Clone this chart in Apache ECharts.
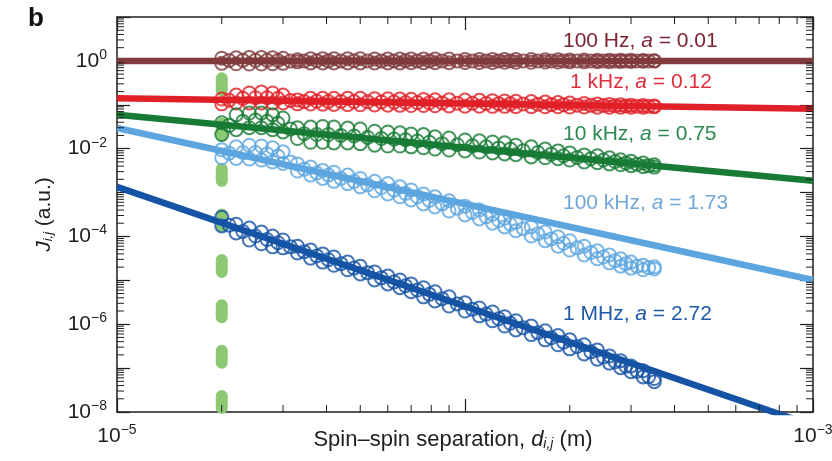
<!DOCTYPE html>
<html>
<head>
<meta charset="utf-8">
<script src="https://cdn.jsdelivr.net/npm/echarts@6/dist/echarts.min.js"></script>
<style>
html, body { margin: 0; padding: 0; background: #fff; }
#main { width: 832px; height: 461px; }
</style>
</head>
<body>
<div id="main"></div>
<script>
// spin-spin separations (m) where the measured couplings are sampled
var sep = [2.0e-5, 2.2e-5, 2.4e-5, 2.6e-5, 2.8e-5, 3.0e-5, 3.3e-5, 3.6e-5, 3.9e-5, 4.2e-5,
    4.6e-5, 5.0e-5, 5.5e-5, 6.0e-5, 6.5e-5, 7.0e-5, 7.6e-5, 8.2e-5, 9.0e-5, 1.0e-4,
    1.1e-4, 1.2e-4, 1.3e-4, 1.4e-4, 1.55e-4, 1.7e-4, 1.85e-4, 2.0e-4, 2.2e-4, 2.4e-4,
    2.6e-4, 2.8e-4, 3.0e-4, 3.25e-4, 3.5e-4];
// separations of the band-centre samples
var sepMid = [2.1e-5, 2.3e-5, 2.5e-5, 2.7e-5, 2.9e-5, 3.15e-5, 3.45e-5, 3.75e-5, 4.05e-5, 4.4e-5,
    4.8e-5, 5.25e-5, 5.75e-5, 6.25e-5, 6.75e-5, 7.3e-5, 7.9e-5, 8.6e-5, 9.5e-5, 1.05e-4,
    1.15e-4, 1.25e-4, 1.35e-4, 1.47e-4, 1.62e-4, 1.77e-4, 1.92e-4, 2.1e-4, 2.3e-4, 2.5e-4,
    2.7e-4, 2.9e-4, 3.12e-4, 3.37e-4];

// upper edge / lower edge / centre of each data band (a.u.)
var hz100Hi = [1.15, 1.18, 1.2, 1.2, 1.18, 1.15, 1.06, 1.12, 1.12, 1.12, 1.12, 1.12, 1.1, 1.1, 1.1, 1.1, 1.1, 1.1, 1.1, 1.08, 1.08, 1.08, 1.07, 1.07, 1.07, 1.06, 1.06, 1.05, 1.05, 1.04, 1.04, 1.03, 1.03, 1.02, 1.01];
var hz100Lo = [0.88, 0.86, 0.85, 0.85, 0.86, 0.88, 0.95, 0.9, 0.9, 0.9, 0.9, 0.9, 0.9, 0.9, 0.9, 0.91, 0.91, 0.91, 0.91, 0.92, 0.92, 0.92, 0.93, 0.93, 0.93, 0.94, 0.94, 0.95, 0.95, 0.96, 0.96, 0.97, 0.97, 0.98, 0.99];
var hz100Mid = [1.02, 1.03, 1.03, 1.03, 1.02, 0.99, 1.0, 1.01, 1.0, 1.0, 1.01, 1.0, 1.0, 1.0, 1.01, 1.0, 1.0, 1.0, 1.0, 1.0, 1.0, 1.0, 1.0, 1.0, 1.0, 1.0, 1.0, 1.0, 1.0, 1.0, 1.0, 1.0, 1.0, 1.0];
var khz1Hi = [0.135, 0.166, 0.186, 0.195, 0.186, 0.166, 0.129, 0.14, 0.14, 0.14, 0.14, 0.14, 0.138, 0.137, 0.135, 0.133, 0.132, 0.13, 0.13, 0.128, 0.126, 0.124, 0.122, 0.12, 0.118, 0.115, 0.112, 0.11, 0.107, 0.104, 0.102, 0.1, 0.098, 0.096, 0.094];
var khz1Lo = [0.105, 0.11, 0.11, 0.11, 0.11, 0.11, 0.105, 0.104, 0.103, 0.102, 0.101, 0.1, 0.099, 0.098, 0.097, 0.096, 0.096, 0.095, 0.094, 0.093, 0.093, 0.092, 0.092, 0.091, 0.091, 0.09, 0.09, 0.089, 0.089, 0.088, 0.088, 0.088, 0.088, 0.088, 0.09];
var khz1Mid = [0.127, 0.14, 0.145, 0.145, 0.14, 0.125, 0.118, 0.12, 0.119, 0.119, 0.118, 0.117, 0.116, 0.115, 0.113, 0.112, 0.111, 0.11, 0.109, 0.108, 0.107, 0.106, 0.105, 0.104, 0.103, 0.101, 0.1, 0.098, 0.097, 0.096, 0.095, 0.094, 0.093, 0.092];
var khz10Hi = [0.039, 0.059, 0.065, 0.065, 0.059, 0.05, 0.03, 0.031, 0.032, 0.031, 0.0295, 0.028, 0.025, 0.024, 0.023, 0.0215, 0.021, 0.0186, 0.0174, 0.0158, 0.0151, 0.0142, 0.0136, 0.012, 0.011, 0.0098, 0.0089, 0.008, 0.0072, 0.0069, 0.0062, 0.0056, 0.0052, 0.0047, 0.0043];
var khz10Lo = [0.021, 0.027, 0.03, 0.03, 0.027, 0.024, 0.017, 0.014, 0.014, 0.0135, 0.0135, 0.013, 0.012, 0.0115, 0.0115, 0.011, 0.0105, 0.0098, 0.0093, 0.0089, 0.0084, 0.008, 0.0076, 0.0073, 0.0065, 0.0062, 0.0059, 0.0055, 0.005, 0.0048, 0.0045, 0.0043, 0.0041, 0.0039, 0.0038];
var khz10Mid = [0.034, 0.042, 0.045, 0.042, 0.038, 0.028, 0.022, 0.021, 0.021, 0.02, 0.0195, 0.018, 0.017, 0.0165, 0.016, 0.015, 0.014, 0.013, 0.0123, 0.0116, 0.011, 0.0104, 0.0098, 0.009, 0.0082, 0.0075, 0.0069, 0.0063, 0.0059, 0.0055, 0.0051, 0.0047, 0.0044, 0.0041];
var khz100Hi = [0.0095, 0.011, 0.012, 0.0115, 0.0105, 0.0085, 0.0045, 0.0038, 0.0032, 0.0029, 0.0025, 0.0021, 0.0018, 0.0016, 0.00135, 0.00115, 0.00093, 0.0008, 0.00065, 0.00049, 0.0004, 0.00032, 0.00026, 0.00021, 0.000165, 0.000126, 0.000098, 0.00008, 0.00006, 0.000047, 0.000038, 0.000031, 0.000026, 0.000022, 0.0000204];
var khz100Lo = [0.0062, 0.006, 0.0058, 0.0055, 0.005, 0.0046, 0.0031, 0.0025, 0.0021, 0.0018, 0.0016, 0.00135, 0.0011, 0.00093, 0.0008, 0.00068, 0.00055, 0.00047, 0.00038, 0.00031, 0.00025, 0.0002, 0.000165, 0.000135, 0.000103, 0.00008, 0.00006, 0.000049, 0.000038, 0.000031, 0.000025, 0.000021, 0.000019, 0.0000174, 0.0000182];
var khz100Mid = [0.0079, 0.0082, 0.0082, 0.0076, 0.0068, 0.005, 0.0034, 0.0028, 0.0025, 0.0021, 0.0018, 0.0015, 0.0013, 0.00113, 0.00096, 0.0008, 0.00066, 0.00055, 0.00044, 0.00035, 0.00028, 0.00023, 0.00019, 0.00015, 0.000115, 0.000088, 0.00007, 0.000055, 0.000043, 0.000034, 0.000028, 0.000024, 0.000021, 0.0000195];
var mhz1Hi = [2.75e-4, 1.9e-4, 1.55e-4, 1.26e-4, 1.02e-4, 8.3e-5, 6.0e-5, 4.9e-5, 4.0e-5, 3.4e-5, 2.6e-5, 2.1e-5, 1.55e-5, 1.26e-5, 1.02e-5, 8.3e-6, 6.8e-6, 5.5e-6, 4.2e-6, 3.1e-6, 2.35e-6, 1.9e-6, 1.48e-6, 1.2e-6, 9.1e-7, 7.1e-7, 5.5e-7, 4.4e-7, 3.4e-7, 2.6e-7, 1.9e-7, 1.48e-7, 1.12e-7, 8.7e-8, 5.8e-8];
var mhz1Lo = [1.74e-4, 1.2e-4, 8.3e-5, 6.8e-5, 5.8e-5, 5.5e-5, 4.2e-5, 3.2e-5, 2.6e-5, 2.2e-5, 1.74e-5, 1.4e-5, 1.02e-5, 8.3e-6, 6.8e-6, 5.5e-6, 4.2e-6, 3.4e-6, 2.6e-6, 2.0e-6, 1.55e-6, 1.2e-6, 9.1e-7, 7.4e-7, 5.8e-7, 4.4e-7, 3.4e-7, 2.75e-7, 2.1e-7, 1.6e-7, 1.3e-7, 1.02e-7, 8.3e-8, 6.3e-8, 4.9e-8];
var mhz1Mid = [1.8e-4, 1.3e-4, 1.02e-4, 8.5e-5, 7.2e-5, 5.8e-5, 4.5e-5, 3.6e-5, 2.95e-5, 2.4e-5, 1.9e-5, 1.48e-5, 1.14e-5, 9.2e-6, 7.5e-6, 6.0e-6, 4.8e-6, 3.8e-6, 2.9e-6, 2.2e-6, 1.7e-6, 1.33e-6, 1.05e-6, 8.3e-7, 6.4e-7, 4.9e-7, 3.9e-7, 3.1e-7, 2.35e-7, 1.78e-7, 1.4e-7, 1.1e-7, 8.5e-8, 6.4e-8];

// power-law fits, value at the two ends of the x range
var fitX = [1e-5, 1e-3];
var fit100Hz = [1.0, 1.0];
var fit1kHz = [0.141, 0.081];
var fit10kHz = [0.059, 0.00186];
var fit100kHz = [0.0295, 1.02e-5];
var fit1MHz = [0.00135, 4.9e-9];

// vertical cut-off marker
var cutoffX = 2e-5;
var cutoffY = [1, 1e-8];

// tick labels (decade exponents)
var xLabelExps = [-5, -3];
var yLabelExps = [0, -2, -4, -6, -8];
var minorSteps = [2, 3, 4, 5, 6, 7, 8, 9];

var labelTexts = [
    ['100 Hz, ', '0.01'],
    ['1 kHz, ', '0.12'],
    ['10 kHz, ', '0.75'],
    ['100 kHz, ', '1.73'],
    ['1 MHz, ', '2.72']
];

var FONT = 'Liberation Sans, Arial, Helvetica, sans-serif';
var INK = '#1e1e1e';

var myChart = echarts.init(document.getElementById('main'));

function pairs(xs, ys) {
    return xs.map(function (x, i) { return [x, ys[i]]; });
}

function supLabel(e) {
    return '{b|10}{s|' + (e < 0 ? '\u2212' + (-e) : e) + '}';
}

function dataSeries(color, hi, lo, mid) {
    return {
        type: 'scatter',
        data: pairs(sep, hi).concat(pairs(sepMid, mid), pairs(sep, lo)),
        symbol: 'circle',
        symbolSize: 13,
        itemStyle: { color: 'rgba(255,255,255,0)', borderColor: color, borderWidth: 2 },
        z: 2,
        silent: true
    };
}

function fitSeries(color, ys) {
    return {
        type: 'line',
        data: pairs(fitX, ys),
        symbol: 'none',
        lineStyle: { color: color, width: 6.5 },
        z: 3,
        silent: true
    };
}

// minor log ticks for each decade
var xMinor = [], yMinor = [];
[-5, -4].forEach(function (k) {
    minorSteps.forEach(function (m) { xMinor.push([m * Math.pow(10, k), 1]); });
});
for (var k = -8; k <= 0; k++) {
    minorSteps.forEach(function (m) { yMinor.push([1e-4, m * Math.pow(10, k)]); });
}

function minorXTick(params, api) {
    var px = api.coord([api.value(0), 1])[0];
    var cs = params.coordSys;
    var st = { stroke: INK, lineWidth: 1 };
    return {
        type: 'group', children: [
            { type: 'line', shape: { x1: px, y1: cs.y + cs.height, x2: px, y2: cs.y + cs.height - 7 }, style: st },
            { type: 'line', shape: { x1: px, y1: cs.y, x2: px, y2: cs.y + 7 }, style: st }
        ]
    };
}

function minorYTick(params, api) {
    var py = api.coord([1e-4, api.value(1)])[1];
    var cs = params.coordSys;
    var st = { stroke: INK, lineWidth: 1 };
    return {
        type: 'group', children: [
            { type: 'line', shape: { x1: cs.x, y1: py, x2: cs.x + 7, y2: py }, style: st },
            { type: 'line', shape: { x1: cs.x + cs.width, y1: py, x2: cs.x + cs.width - 7, y2: py }, style: st }
        ]
    };
}

var labelColors = ['#7d2432', '#de2d3c', '#2c8a52', '#72a7da', '#1f58a6'];
var labelY = [41, 82, 134, 203, 314];

var supRich = {
    b: { fontSize: 21, fontFamily: FONT, color: INK, lineHeight: 26 },
    s: { fontSize: 14, fontFamily: FONT, color: INK, verticalAlign: 'top' }
};

var axisBase = {
    type: 'log',
    logBase: 10,
    axisLine: { lineStyle: { color: INK, width: 1.5 } },
    axisTick: { inside: true, length: 13, lineStyle: { color: INK, width: 1.2 } },
    splitLine: { show: false }
};

option = {
    animation: false,
    backgroundColor: '#fff',
    grid: { left: 117, right: 19, top: 17, bottom: 49, containLabel: false, outerBoundsMode: 'none' },
    xAxis: [
        Object.assign({}, axisBase, {
            min: 1e-5, max: 1e-3, splitNumber: 2,
            position: 'bottom',
            axisLabel: {
                margin: 11, showMinLabel: true, showMaxLabel: true,
                formatter: function (v) {
                    var e = Math.round(Math.log10(v));
                    return xLabelExps.indexOf(e) >= 0 ? supLabel(e) : '';
                },
                rich: supRich
            },
            name: '{t|Spin\u2013spin separation, }{i|d}{sub|i,j}{t| (m)}',
            nameLocation: 'middle',
            nameGap: 17,
            nameMoveOverlap: false,
            nameTextStyle: {
                padding: [0, 24, 0, 0],
                rich: {
                    t: { fontSize: 22, fontFamily: FONT, color: INK },
                    i: { fontSize: 22, fontFamily: FONT, color: INK, fontStyle: 'italic' },
                    sub: { fontSize: 14, fontFamily: FONT, color: INK, fontStyle: 'italic', verticalAlign: 'bottom' }
                }
            }
        }),
        Object.assign({}, axisBase, {
            min: 1e-5, max: 1e-3, splitNumber: 2,
            position: 'top',
            axisLabel: { show: false }
        })
    ],
    yAxis: [
        Object.assign({}, axisBase, {
            min: 1e-8, max: 1e1, splitNumber: 9,
            position: 'left',
            axisLabel: {
                margin: 10,
                formatter: function (v) {
                    var e = Math.round(Math.log10(v));
                    return yLabelExps.indexOf(e) >= 0 ? supLabel(e) : '';
                },
                rich: supRich
            },
            name: '{i|J}{sub|i,j}{t| (a.u.)}',
            nameLocation: 'middle',
            nameRotate: 90,
            nameGap: 62,
            nameMoveOverlap: false,
            nameTextStyle: {
                rich: {
                    t: { fontSize: 21, fontFamily: FONT, color: INK },
                    i: { fontSize: 21, fontFamily: FONT, color: INK, fontStyle: 'italic' },
                    sub: { fontSize: 13, fontFamily: FONT, color: INK, fontStyle: 'italic', verticalAlign: 'bottom' }
                }
            }
        }),
        Object.assign({}, axisBase, {
            min: 1e-8, max: 1e1, splitNumber: 9,
            position: 'right',
            axisLabel: { show: false }
        })
    ],
    graphic: [{
        type: 'text', left: 28, top: 6,
        style: { text: 'b', font: 'bold 26px ' + FONT, fill: '#111' }
    }].concat(labelTexts.map(function (t, i) {
        return {
            type: 'text', x: 563 + (i === 1 ? 7 : 0), y: labelY[i],
            style: {
                text: '{t|' + t[0] + '}{i|a}{t| = ' + t[1] + '}',
                verticalAlign: 'middle',
                rich: {
                    t: { fontSize: 21, fontFamily: FONT, fill: labelColors[i] },
                    i: { fontSize: 21, fontFamily: FONT, fill: labelColors[i], fontStyle: 'italic' }
                }
            }
        };
    })),
    series: [
        {
            type: 'line',
            data: [[cutoffX, cutoffY[0]], [cutoffX, cutoffY[1]]],
            symbol: 'none',
            lineStyle: { color: '#8dc873', width: 12, type: [12, 33.4], dashOffset: 28, cap: 'round' },
            z: 1,
            silent: true
        },
        dataSeries('#7f3a3c', hz100Hi, hz100Lo, hz100Mid),
        dataSeries('#e11f26', khz1Hi, khz1Lo, khz1Mid),
        dataSeries('#177a35', khz10Hi, khz10Lo, khz10Mid),
        dataSeries('#5ca5df', khz100Hi, khz100Lo, khz100Mid),
        dataSeries('#1553a5', mhz1Hi, mhz1Lo, mhz1Mid),
        fitSeries('#7f3a3c', fit100Hz),
        fitSeries('#e11f26', fit1kHz),
        fitSeries('#177a35', fit10kHz),
        fitSeries('#5ca5df', fit100kHz),
        fitSeries('#1553a5', fit1MHz),
        {
            type: 'custom', renderItem: minorXTick, data: xMinor,
            clip: false, silent: true, z: 5
        },
        {
            type: 'custom', renderItem: minorYTick, data: yMinor,
            clip: false, silent: true, z: 5
        }
    ]
};

myChart.setOption(option);
</script>
</body>
</html>
